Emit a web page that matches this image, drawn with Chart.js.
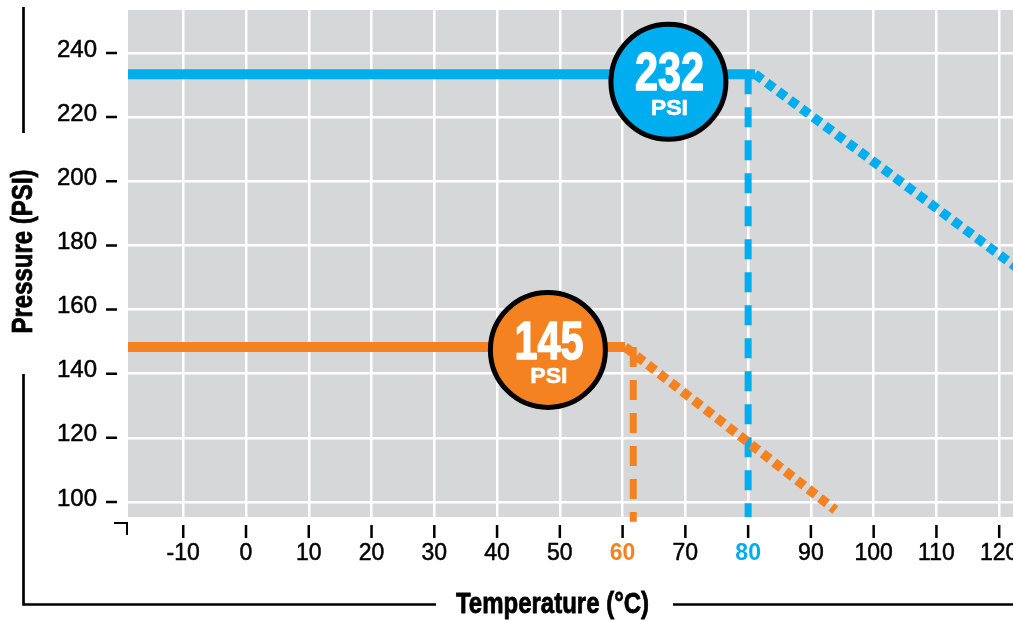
<!DOCTYPE html>
<html>
<head>
<meta charset="utf-8">
<title>Pressure vs Temperature</title>
<script src="https://cdn.jsdelivr.net/npm/chart.js@4/dist/chart.umd.min.js"></script>
<style>
  html, body { margin: 0; padding: 0; background: #fff; }
  canvas { display: block; }
</style>
</head>
<body>
<canvas id="ratingChart" width="1013" height="621"></canvas>
<script>
// ticks
const tempTicks = [-10, 0, 10, 20, 30, 40, 50, 60, 70, 80, 90, 100, 110, 120];
const pressureTicks = [100, 120, 140, 160, 180, 200, 220, 240];

// 232 PSI rating (blue)
const highFlatTemp = [-18.8, 81.1];
const highFlatPsi = [233.4, 233.4];
const highDerateTemp = [81.1, 123];
const highDeratePsi = [233.4, 172.8];
const highLimitTemp = [80, 80];
const highLimitPsi = [233.4, 95.3];

// 145 PSI rating (orange)
const lowFlatTemp = [-18.8, 60.4];
const lowFlatPsi = [148.3, 148.3];
const lowDerateTemp = [60.4, 93.9];
const lowDeratePsi = [148.3, 97.5];
const lowLimitTemp = [61.7, 61.7];
const lowLimitPsi = [148.3, 93.8];

// badges
const badgeTemp = [67.3, 48.1];
const badgePsi = [231, 147.4];
const badgeText = ["232", "145"];

const BLUE = "#00aeef";
const ORANGE = "#f58220";
const GRAY = "#d6d7d9";
const SANS = '"Liberation Sans", Arial, sans-serif';

function pts(xs, ys) {
  return xs.map((x, i) => ({ x: x, y: ys[i] }));
}

function lineSet(xs, ys, color, width, dash, clip) {
  return {
    data: pts(xs, ys),
    showLine: true,
    borderColor: color,
    borderWidth: width,
    borderDash: dash,
    borderCapStyle: "butt",
    pointRadius: 0,
    pointHoverRadius: 0,
    clip: clip,
  };
}

function badgeSet(i, color) {
  return {
    data: [{ x: badgeTemp[i], y: badgePsi[i] }],
    showLine: false,
    backgroundColor: color,
    borderColor: "#000",
    pointRadius: 57.5,
    pointHoverRadius: 57.5,
    pointBorderWidth: 5,
    pointHoverBorderWidth: 5,
    badge: badgeText[i],
    clip: false,
  };
}

// condensed bold text: squeeze a normal bold face horizontally
function narrowText(ctx, text, x, y, size, squeeze, stroke) {
  ctx.save();
  ctx.translate(x, y);
  ctx.scale(squeeze, 1);
  ctx.font = "bold " + size + "px " + SANS;
  if (stroke) {
    ctx.lineWidth = stroke;
    ctx.strokeStyle = ctx.fillStyle;
    ctx.lineJoin = "round";
    ctx.strokeText(text, 0, 0);
  }
  ctx.fillText(text, 0, 0);
  ctx.restore();
}

// gray plot background
const plotBackground = {
  id: "plotBackground",
  beforeDraw(chart) {
    const { ctx, chartArea: a } = chart;
    ctx.save();
    ctx.fillStyle = GRAY;
    ctx.fillRect(a.left, a.top, a.right - a.left, a.bottom - a.top);
    ctx.restore();
  },
};

// text inside circles
const badgeLabels = {
  id: "badgeLabels",
  afterDatasetsDraw(chart) {
    const ctx = chart.ctx;
    chart.data.datasets.forEach((ds, i) => {
      if (!ds.badge) return;
      const p = chart.getDatasetMeta(i).data[0];
      ctx.save();
      ctx.fillStyle = "#fff";
      ctx.textAlign = "center";
      ctx.textBaseline = "middle";
      narrowText(ctx, ds.badge, p.x + 1, p.y - 6, 53, 0.78, 1.5);
      narrowText(ctx, "PSI", p.x + 1, p.y + 27, 22, 1.05, 0.6);
      ctx.restore();
    });
  },
};

// detached tick marks, corner mark, axis titles and frame lines
const axisDecor = {
  id: "axisDecor",
  afterDraw(chart) {
    const { ctx, chartArea: a } = chart;
    const xs = chart.scales.x;
    const ys = chart.scales.y;
    ctx.save();
    ctx.strokeStyle = "#000";
    ctx.lineWidth = 2.5;
    ctx.beginPath();
    pressureTicks.forEach((v) => {
      const y = ys.getPixelForValue(v);
      ctx.moveTo(a.left - 22, y);
      ctx.lineTo(a.left - 11, y);
    });
    tempTicks.forEach((v) => {
      const x = xs.getPixelForValue(v);
      ctx.moveTo(x, a.bottom + 8);
      ctx.lineTo(x, a.bottom + 21);
    });
    ctx.stroke();

    ctx.lineWidth = 2;
    ctx.beginPath();
    ctx.moveTo(a.left - 14, a.bottom + 6);
    ctx.lineTo(a.left - 1, a.bottom + 6);
    ctx.lineTo(a.left - 1, a.bottom + 18);
    ctx.stroke();

    // frame lines
    ctx.lineWidth = 2.7;
    ctx.beginPath();
    ctx.moveTo(23.5, 7);
    ctx.lineTo(23.5, 133);
    ctx.moveTo(23.5, 374);
    ctx.lineTo(23.5, 604.5);
    ctx.lineTo(436, 604.5);
    ctx.moveTo(673, 604.5);
    ctx.lineTo(1013, 604.5);
    ctx.stroke();

    ctx.fillStyle = "#000";
    ctx.textAlign = "center";
    ctx.textBaseline = "middle";
    narrowText(ctx, "Temperature (°C)", 552.5, 605, 30, 0.8, 0.8);
    ctx.translate(23.5, 251.5);
    ctx.rotate(-Math.PI / 2);
    narrowText(ctx, "Pressure (PSI)", 0, 0, 30, 0.8, 0.8);
    ctx.restore();
  },
};

function fixAxis(scale) {
  scale.paddingLeft = 0;
  scale.paddingRight = 0;
  scale.paddingTop = 0;
  scale.paddingBottom = 0;
}

function special(c) {
  return c.tick && (c.tick.value === 60 || c.tick.value === 80);
}

new Chart(document.getElementById("ratingChart"), {
  type: "scatter",
  data: {
    datasets: [
      badgeSet(0, BLUE),
      badgeSet(1, ORANGE),
      lineSet(highFlatTemp, highFlatPsi, BLUE, 10, [], undefined),
      lineSet(lowFlatTemp, lowFlatPsi, ORANGE, 10, [], undefined),
      lineSet(lowDerateTemp, lowDeratePsi, ORANGE, 9.5, [9, 5.5], undefined),
      lineSet(highDerateTemp, highDeratePsi, BLUE, 9.5, [9, 5.5], undefined),
      lineSet(lowLimitTemp, lowLimitPsi, ORANGE, 7, [20, 13], false),
      lineSet(highLimitTemp, highLimitPsi, BLUE, 7, [20, 13], undefined),
    ],
  },
  options: {
    responsive: false,
    animation: false,
    events: [],
    layout: { autoPadding: false, padding: { top: 10, left: 0, right: 0, bottom: 0 } },
    plugins: {
      legend: { display: false },
      tooltip: { enabled: false },
    },
    scales: {
      x: {
        type: "linear",
        min: -18.8,
        max: 122.2,
        border: { display: false },
        grid: { color: "#fff", lineWidth: 2.5, drawTicks: false },
        afterBuildTicks(scale) {
          scale.ticks = tempTicks.map((v) => ({ value: v }));
        },
        afterFit(scale) {
          scale.height = 104;
          fixAxis(scale);
        },
        ticks: {
          padding: 23,
          maxRotation: 0,
          autoSkip: false,
          color: (c) =>
            c.tick && c.tick.value === 60 ? ORANGE : c.tick && c.tick.value === 80 ? BLUE : "#000",
          textStrokeColor: (c) =>
            c.tick && c.tick.value === 60 ? ORANGE : c.tick && c.tick.value === 80 ? BLUE : "#000",
          textStrokeWidth: (c) => (special(c) ? 0 : 0.5),
          font: (c) => ({
            family: SANS,
            size: 23,
            weight: special(c) ? "bold" : "normal",
          }),
        },
      },
      y: {
        type: "linear",
        min: 95.3,
        max: 253.4,
        border: { display: false },
        grid: { color: "#fff", lineWidth: 2.5, drawTicks: false },
        afterBuildTicks(scale) {
          scale.ticks = pressureTicks.map((v) => ({ value: v }));
        },
        afterFit(scale) {
          scale.width = 128;
          fixAxis(scale);
        },
        ticks: {
          padding: 31,
          labelOffset: -3,
          color: "#000",
          textStrokeColor: "#000",
          textStrokeWidth: 0.5,
          font: { family: SANS, size: 24 },
        },
      },
    },
  },
  plugins: [plotBackground, badgeLabels, axisDecor],
});
</script>
</body>
</html>
